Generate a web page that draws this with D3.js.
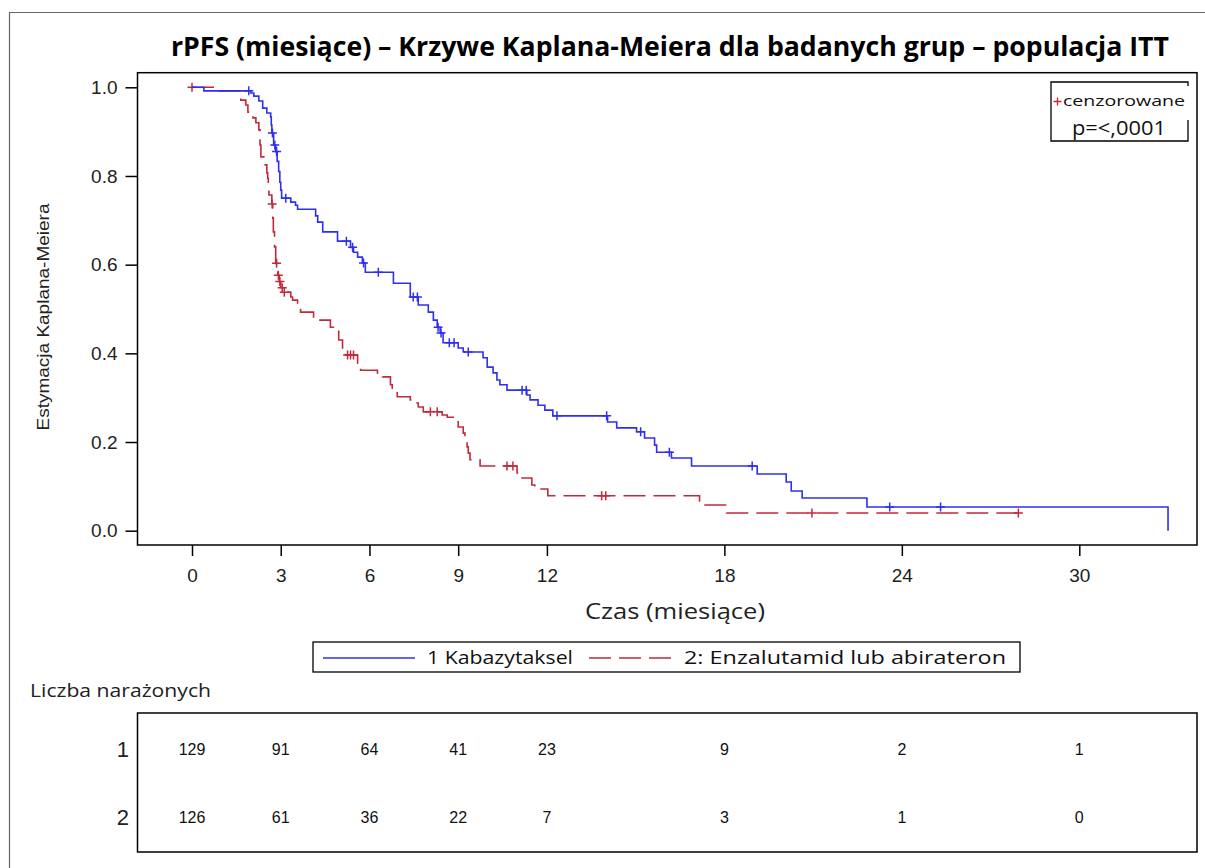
<!DOCTYPE html>
<html><head><meta charset="utf-8">
<script src="https://cdn.jsdelivr.net/npm/d3@7"></script>
<style>html,body{margin:0;padding:0;background:#fff;} svg{display:block;}</style>
</head><body>
<svg id="chart" width="1205" height="868"></svg>
<script>
// ---------------- DATA ----------------
const title = "rPFS (miesiące) – Krzywe Kaplana-Meiera dla badanych grup – populacja ITT";
const xLabel = "Czas (miesiące)";
const yLabel = "Estymacja Kaplana-Meiera";
const timeTicks = [0, 3, 6, 9, 12, 18, 24, 30];
const yTicks = [0.0, 0.2, 0.4, 0.6, 0.8, 1.0];
const groupNames = ["1 Kabazytaksel", "2: Enzalutamid lub abirateron"];
const riskLabel = "Liczba narażonych";
const riskGroups = ["1", "2"];
const riskTimes = [0, 3, 6, 9, 12, 18, 24, 30];
const risk1 = [129, 91, 64, 41, 23, 9, 2, 1];
const risk2 = [126, 61, 36, 22, 7, 3, 1, 0];
const censorText = "cenzorowane";
const pText = "p=<,0001";

// KM steps [time, survival after step]
const kabaSteps = [[0,1],[0.4,0.992],[1.99,0.987],[2.09,0.98],[2.26,0.969],[2.39,0.953],[2.53,0.942],[2.66,0.933],[2.68,0.915],[2.70,0.897],[2.76,0.87],[2.83,0.855],[2.88,0.833],[2.93,0.81],[2.97,0.786],[3.0,0.768],[3.03,0.75],[3.34,0.741],[3.5,0.734],[3.57,0.725],[4.18,0.71],[4.25,0.696],[4.42,0.674],[4.92,0.653],[5.36,0.639],[5.46,0.628],[5.6,0.617],[5.76,0.604],[5.86,0.583],[6.81,0.558],[7.38,0.527],[7.65,0.509],[7.99,0.493],[8.16,0.475],[8.29,0.459],[8.39,0.446],[8.49,0.424],[9.0,0.412],[9.17,0.403],[9.84,0.39],[9.98,0.369],[10.18,0.356],[10.31,0.34],[10.41,0.329],[10.65,0.317],[11.32,0.306],[11.43,0.295],[11.7,0.283],[11.93,0.272],[12.2,0.259],[14.05,0.245],[14.36,0.232],[15.03,0.223],[15.3,0.209],[15.64,0.193],[15.71,0.177],[16.21,0.164],[16.89,0.146],[19.11,0.128],[20.09,0.110],[20.26,0.0895],[20.63,0.0737],[22.82,0.0535],[33.0,0]];
const kabaCensor = [1.92,2.72,2.8,2.86,3.17,5.22,5.43,5.8,6.3,7.48,7.62,8.32,8.42,8.7,8.86,9.34,11.16,11.3,12.34,14.02,15.17,16.14,18.94,23.59,25.31];

const enzaSteps = [[0,1],[0.8,0.992],[1.65,0.971],[1.82,0.96],[1.89,0.944],[2.06,0.931],[2.16,0.92],[2.26,0.904],[2.3,0.87],[2.33,0.843],[2.43,0.825],[2.53,0.807],[2.56,0.795],[2.58,0.775],[2.6,0.757],[2.70,0.737],[2.73,0.705],[2.75,0.674],[2.79,0.64],[2.83,0.603],[2.9,0.576],[2.95,0.562],[3.0,0.548],[3.1,0.538],[3.34,0.527],[3.4,0.52],[3.57,0.505],[3.67,0.493],[4.11,0.482],[4.18,0.475],[4.68,0.459],[4.85,0.453],[4.96,0.43],[5.09,0.408],[5.19,0.396],[5.6,0.378],[5.7,0.362],[6.27,0.356],[6.44,0.347],[6.71,0.329],[6.77,0.317],[6.94,0.302],[7.38,0.295],[7.48,0.288],[7.65,0.279],[7.82,0.268],[8.46,0.261],[8.63,0.256],[8.9,0.25],[9.0,0.234],[9.17,0.22],[9.23,0.205],[9.3,0.189],[9.34,0.175],[9.4,0.16],[9.74,0.146],[10.99,0.13],[11.16,0.119],[11.49,0.103],[11.59,0.094],[12.03,0.0787],[17.16,0.058],[18.07,0.040],[27.95,0.040]];
const enzaCensor = [0,2.71,2.86,2.92,2.97,3.05,3.12,5.26,5.36,5.46,8.06,8.29,10.65,10.85,13.85,13.99,20.96,27.94];

// ---------------- LAYOUT ----------------
const blue = "#2f2ff0", red = "#c4293b";
const svg = d3.select("#chart");
svg.append("rect").attr("width",1205).attr("height",868).attr("fill","#fff");

// outer frame (left & top)
svg.append("path").attr("d","M9.5,868 V12.5 H1205").attr("fill","none").attr("stroke","#666").attr("stroke-width",1.2);

const plot = {l:137.5, r:1197, t:72.7, b:545};
const x = d3.scaleLinear().domain([0,30]).range([192,1079.3]);
const y = d3.scaleLinear().domain([0,1]).range([530.7,87.3]);

// title
svg.append("text").attr("x",670).attr("y",56).attr("text-anchor","middle")
  .attr("font-family","Open Sans, sans-serif").attr("font-weight","bold").attr("font-size",26)
  .attr("textLength",998).attr("lengthAdjust","spacingAndGlyphs").attr("fill","#000").text(title);

// axes
const yAxis = d3.axisLeft(y).tickValues(yTicks).tickFormat(d3.format(".1f")).tickSize(12).tickPadding(8);
const gy = svg.append("g").attr("transform",`translate(${plot.l},0)`).call(yAxis);
const xAxis = d3.axisBottom(x).tickValues(timeTicks).tickFormat(d3.format("d")).tickSize(11).tickPadding(13);
const gx = svg.append("g").attr("transform",`translate(0,${plot.b})`).call(xAxis);
[gx,gy].forEach(g=>{
  g.select(".domain").remove();
  g.selectAll(".tick line").attr("stroke","#000").attr("stroke-width",1.5);
  g.selectAll(".tick text").attr("font-family","Liberation Sans, Arial, sans-serif").attr("font-size",19).attr("fill","#222");
});

// plot frame
svg.append("rect").attr("x",plot.l).attr("y",plot.t).attr("width",plot.r-plot.l).attr("height",plot.b-plot.t)
  .attr("fill","none").attr("stroke","#000").attr("stroke-width",1.5);

// y label
svg.append("text").attr("transform","translate(49,317) rotate(-90)").attr("text-anchor","middle")
  .attr("font-family","Liberation Sans, Arial, sans-serif").attr("font-size",16)
  .attr("textLength",227).attr("lengthAdjust","spacingAndGlyphs").attr("fill","#222").text(yLabel);

// x label
svg.append("text").attr("x",675).attr("y",619).attr("text-anchor","middle")
  .attr("font-family","Open Sans, sans-serif").attr("font-size",21)
  .attr("textLength",180).attr("lengthAdjust","spacingAndGlyphs").attr("fill","#222").text(xLabel);

// KM curves
const line = d3.line().x(d=>x(d[0])).y(d=>y(d[1])).curve(d3.curveStepAfter);
function survAt(steps,t){ let s=steps[0][1]; for(const p of steps){ if(p[0]<=t) s=p[1]; else break; } return s; }
function drawGroup(steps,cens,color,dash){
  svg.append("path").datum(steps).attr("d",line).attr("fill","none").attr("stroke",color)
    .attr("stroke-width",1.6).attr("stroke-dasharray",dash);
  svg.append("g").selectAll("path").data(cens).join("path")
    .attr("d",t=>{const cx=x(t), cy=y(survAt(steps,t)); return `M${cx-4.5},${cy}H${cx+4.5}M${cx},${cy-4.5}V${cy+4.5}`;})
    .attr("stroke",color).attr("stroke-width",1.5).attr("fill","none");
}
drawGroup(enzaSteps,enzaCensor,red,"22,8");
drawGroup(kabaSteps,kabaCensor,blue,null);

// top-right inset box
svg.append("path").attr("d","M1188,86 V82 H1051 V141 H1188 V120").attr("fill","none").attr("stroke","#000").attr("stroke-width",1.3);
svg.append("path").attr("d","M1053.5,101.5H1061.5M1057.5,97.5V105.5").attr("stroke",red).attr("stroke-width",1.3);
svg.append("text").attr("x",1063).attr("y",106).attr("font-family","Open Sans, sans-serif").attr("font-size",15)
  .attr("textLength",122).attr("lengthAdjust","spacingAndGlyphs").attr("fill","#111").text(censorText);
svg.append("text").attr("x",1072).attr("y",134.5).attr("font-family","Open Sans, sans-serif").attr("font-size",20)
  .attr("textLength",94).attr("lengthAdjust","spacingAndGlyphs").attr("fill","#111").text(pText);

// bottom legend
svg.append("rect").attr("x",313).attr("y",642).attr("width",707).attr("height",30).attr("fill","none").attr("stroke","#000").attr("stroke-width",1.3);
svg.append("line").attr("x1",323).attr("x2",415).attr("y1",658).attr("y2",658).attr("stroke",blue).attr("stroke-width",1.6);
svg.append("text").attr("x",427).attr("y",664).attr("font-family","Open Sans, sans-serif").attr("font-size",19)
  .attr("textLength",146).attr("lengthAdjust","spacingAndGlyphs").attr("fill","#111").text(groupNames[0]);
svg.append("line").attr("x1",589).attr("x2",672).attr("y1",658).attr("y2",658).attr("stroke",red).attr("stroke-width",1.6).attr("stroke-dasharray","22,8");
svg.append("text").attr("x",684).attr("y",664).attr("font-family","Open Sans, sans-serif").attr("font-size",19)
  .attr("textLength",322).attr("lengthAdjust","spacingAndGlyphs").attr("fill","#111").text(groupNames[1]);

// at-risk table
svg.append("text").attr("x",30).attr("y",697).attr("font-family","Open Sans, sans-serif").attr("font-size",18)
  .attr("textLength",181).attr("lengthAdjust","spacingAndGlyphs").attr("fill","#222").text(riskLabel);
svg.append("rect").attr("x",plot.l).attr("y",713).attr("width",plot.r-plot.l).attr("height",139).attr("fill","none").attr("stroke","#000").attr("stroke-width",1.5);
const rowY = [749, 817];
[risk1,risk2].forEach((row,i)=>{
  svg.append("text").attr("x",129).attr("y",rowY[i]+8).attr("text-anchor","end")
    .attr("font-family","Liberation Sans, Arial, sans-serif").attr("font-size",22).attr("fill","#222").text(riskGroups[i]);
  svg.append("g").selectAll("text").data(row).join("text")
    .attr("x",(d,j)=>x(riskTimes[j])).attr("y",rowY[i]+5.5).attr("text-anchor","middle")
    .attr("font-family","Liberation Sans, Arial, sans-serif").attr("font-size",16).attr("fill","#111").text(d=>d);
});
</script>
</body></html>
